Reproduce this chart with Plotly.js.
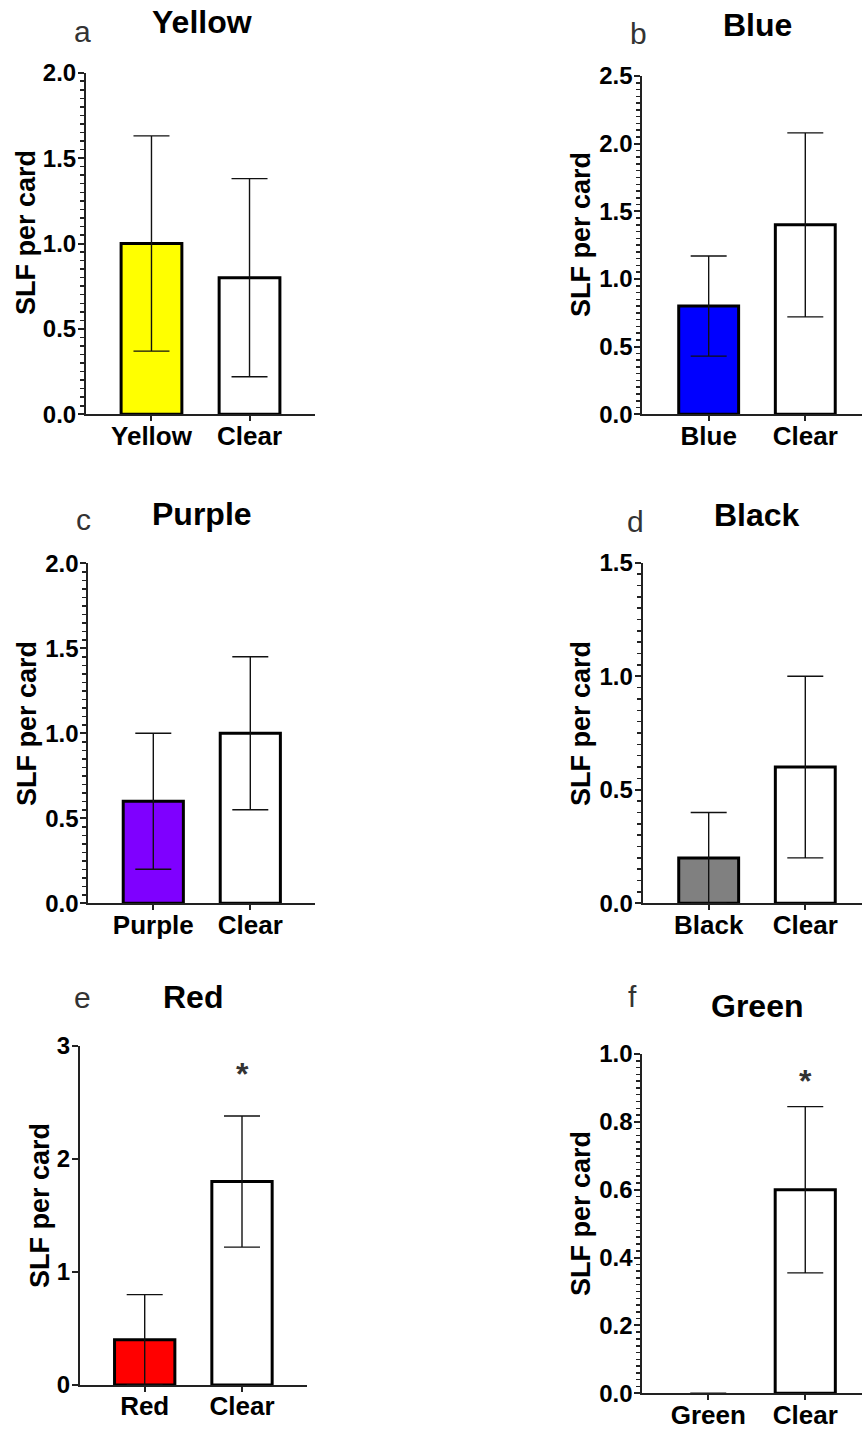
<!DOCTYPE html>
<html>
<head>
<meta charset="utf-8">
<script src="https://cdn.plot.ly/plotly-3.0.1.min.js"></script>
<style>html,body{margin:0;padding:0;background:#fff;}#chart{width:862px;height:1429px;}</style>
</head>
<body>
<div id="chart"></div>
<script>
// ---- data ----
const panelLetters = ['a', 'b', 'c', 'd', 'e', 'f'];
const panelTitles = ['Yellow', 'Blue', 'Purple', 'Black', 'Red', 'Green'];
const categoriesYellow = ['Yellow', 'Clear'];
const categoriesBlue = ['Blue', 'Clear'];
const categoriesPurple = ['Purple', 'Clear'];
const categoriesBlack = ['Black', 'Clear'];
const categoriesRed = ['Red', 'Clear'];
const categoriesGreen = ['Green', 'Clear'];
const meansYellow = [1.0, 0.8];
const semYellow = [0.63, 0.58];
const meansBlue = [0.8, 1.4];
const semBlue = [0.37, 0.68];
const meansPurple = [0.6, 1.0];
const semPurple = [0.4, 0.45];
const meansBlack = [0.2, 0.6];
const semBlack = [0.2, 0.4];
const meansRed = [0.4, 1.8];
const semRed = [0.4, 0.58];
const meansGreen = [0, 0.6];
const semGreen = [0, 0.245];
const yMax = [2.0, 2.5, 2.0, 1.5, 3, 1.0];
const yDtick = [0.5, 0.5, 0.5, 0.5, 1, 0.2];
const yMinorDtick = [0.05, 0.05, 0.05, 0.05, null, 0.02];
const yTickFormat = ['.1f', '.1f', '.1f', '.1f', 'd', '.1f'];
const significant = [false, false, false, false, true, true];
const sigMarkY = [null, null, null, null, 2.75, 0.92];

// ---- styles ----
const fills = ['#FFFF00', '#0000FF', '#7F00FF', '#808080', '#FF0000', '#00A000'];
const W = 862, H = 1429;
const FONT = 'Liberation Sans, Arial, Helvetica, sans-serif';
// pixel geometry: [left, right, top, bottom], x range
const geom = [
  {L: 86, R: 315, T: 72.7, B: 414.3, xr: [-0.668, 1.668]},
  {L: 642.3, R: 862, T: 76, B: 414.3, xr: [-0.687, 1.587]},
  {L: 88.3, R: 315.3, T: 563.3, B: 903.3, xr: [-0.670, 1.670]},
  {L: 642.7, R: 862, T: 562.7, B: 903.3, xr: [-0.683, 1.587]},
  {L: 80, R: 306.7, T: 1046, B: 1385, xr: [-0.665, 1.665]},
  {L: 642.3, R: 862, T: 1054, B: 1393.3, xr: [-0.68, 1.585]}
];
const letterPos = [[82, 32], [638, 33], [83, 519], [635, 521], [82, 997], [632, 996]];
const titlePos = [[202, 22], [757, 25], [202, 514], [757, 515], [193, 997], [757, 1006]];
const ytitlePos = [[26, 233], [581, 235], [27, 724], [581, 724], [40, 1206], [581, 1214]];

const cats = [categoriesYellow, categoriesBlue, categoriesPurple, categoriesBlack, categoriesRed, categoriesGreen];
const means = [meansYellow, meansBlue, meansPurple, meansBlack, meansRed, meansGreen];
const sems = [semYellow, semBlue, semPurple, semBlack, semRed, semGreen];

const px = x => x / W;
const py = y => 1 - y / H;

const traces = [];
const layout = {
  width: W, height: H,
  margin: {l: 0, r: 0, t: 0, b: 0},
  paper_bgcolor: '#fff', plot_bgcolor: 'rgba(0,0,0,0)',
  showlegend: false,
  font: {family: FONT, color: '#000'},
  annotations: []
};

for (let i = 0; i < 6; i++) {
  const n = i === 0 ? '' : String(i + 1);
  const g = geom[i];
  traces.push({
    type: 'bar',
    x: cats[i],
    y: means[i],
    xaxis: 'x' + n,
    yaxis: 'y' + n,
    width: 0.62,
    marker: {
      color: [fills[i], '#FFFFFF'],
      line: {color: '#000', width: means[i].map(v => (v > 0 ? 3 : 0))}
    },
    error_y: {type: 'data', array: sems[i], visible: true, color: '#111', thickness: 1.4, width: 18},
    hoverinfo: 'none'
  });
  layout['xaxis' + n] = {
    domain: [px(g.L), Math.min(1, px(g.R))],
    anchor: 'y' + n,
    type: 'category',
    range: g.xr,
    showline: true, linecolor: '#222', linewidth: 2,
    ticks: 'outside', ticklen: 5, tickwidth: 2, tickcolor: '#222',
    ticklabelstandoff: -8,
    tickfont: {family: FONT, size: 26, color: '#000', weight: 'bold'},
    showgrid: false, zeroline: false, fixedrange: true
  };
  const ya = {
    domain: [py(g.B), py(g.T)],
    anchor: 'x' + n,
    range: [0, yMax[i]],
    showline: true, linecolor: '#222', linewidth: 2,
    ticks: 'outside', ticklen: 6, tickwidth: 2, tickcolor: '#222',
    ticklabelstandoff: -3,
    tick0: 0, dtick: yDtick[i], tickformat: yTickFormat[i],
    tickfont: {family: FONT, size: 24, color: '#000', weight: 'bold'},
    showgrid: false, zeroline: false, fixedrange: true
  };
  if (yMinorDtick[i]) {
    ya.minor = {dtick: yMinorDtick[i], tick0: 0, ticks: 'outside', ticklen: 4, tickwidth: 1.5, tickcolor: '#222', showgrid: false};
  }
  layout['yaxis' + n] = ya;

  layout.annotations.push({
    xref: 'paper', yref: 'paper', x: px(letterPos[i][0]), y: py(letterPos[i][1]),
    xanchor: 'center', yanchor: 'middle', showarrow: false,
    text: panelLetters[i], font: {family: FONT, size: 30, color: '#333'}
  });
  layout.annotations.push({
    xref: 'paper', yref: 'paper', x: px(titlePos[i][0]), y: py(titlePos[i][1]),
    xanchor: 'center', yanchor: 'middle', showarrow: false,
    text: panelTitles[i], font: {family: FONT, size: 32, color: '#000', weight: 'bold'}
  });
  layout.annotations.push({
    xref: 'paper', yref: 'paper', x: px(ytitlePos[i][0]), y: py(ytitlePos[i][1]),
    xanchor: 'center', yanchor: 'middle', showarrow: false, textangle: -90,
    text: 'SLF per card', font: {family: FONT, size: 27, color: '#000', weight: 'bold'}
  });
  if (significant[i]) {
    layout.annotations.push({
      xref: 'x' + n, yref: 'y' + n, x: 1, y: sigMarkY[i],
      xanchor: 'center', yanchor: 'middle', showarrow: false,
      text: '*', font: {family: FONT, size: 32, color: '#333', weight: 'bold'}
    });
  }
}

Plotly.newPlot('chart', traces, layout, {staticPlot: true, displayModeBar: false});
</script>
</body>
</html>
